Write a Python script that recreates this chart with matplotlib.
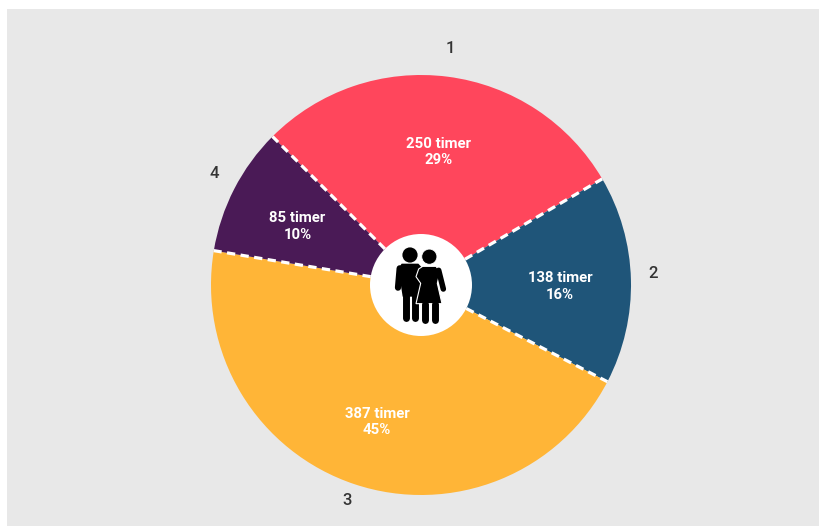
import numpy as np
import matplotlib
matplotlib.use("Agg")
import matplotlib.pyplot as plt
from matplotlib.patches import Circle, Polygon, Rectangle

plt.rcParams['font.family'] = ['Roboto', 'DejaVu Sans']

# data
categories = ['1', '2', '3', '4']
hours = [250, 138, 387, 85]
percents = [29, 16, 45, 10]
colors = ['#FF465C', '#1F5579', '#FFB537', '#4A1A56']

W, H = 820, 526
cx, cy, radius = 421, H - 285, 210
hole_r = 51
start = 135

fig = plt.figure(figsize=(W / 100, H / 100), dpi=100, facecolor='white')
ax = fig.add_axes([0, 0, 1, 1])
ax.add_patch(Rectangle((7, 0), W - 7, H - 9, facecolor='#E8E8E8', edgecolor='none', zorder=0))

ax.pie(hours, colors=colors, startangle=start, counterclock=False, center=(cx, cy),
       radius=radius, frame=True, wedgeprops={'linewidth': 0, 'zorder': 1})
ax.set_xlim(0, W)
ax.set_ylim(0, H)
ax.set_aspect('equal')
ax.axis('off')

fractions = np.array(hours) / sum(hours)
edges = start - 360 * np.concatenate([[0], np.cumsum(fractions)])

# dashed separators between the slices
for a in np.radians(edges[:-1]):
    ax.plot([cx + hole_r * np.cos(a), cx + radius * np.cos(a)],
            [cy + hole_r * np.sin(a), cy + radius * np.sin(a)],
            color='white', lw=2.3, linestyle=(0, (2.6, 1.7)), dash_capstyle='butt', zorder=2)

# labels inside and outside the slices
outer_xy = [(450, 48), (653, 273), (347, 501), (214, 173)]
for i, cat in enumerate(categories):
    mid = np.radians((edges[i] + edges[i + 1]) / 2)
    ax.text(cx + 139 * np.cos(mid), cy + 139 * np.sin(mid) - 5,
            f'{hours[i]} timer\n{percents[i]}%', color='white', fontsize=10.7,
            fontweight='bold', ha='center', va='center', linespacing=1.2, zorder=5)
    ax.text(outer_xy[i][0], H - outer_xy[i][1], cat,
            color='#333333', fontsize=12, fontweight='medium',
            ha='center', va='center', zorder=5)

ax.add_patch(Circle((cx, cy), hole_r, facecolor='white', edgecolor='none', zorder=3))


# couple icon, coordinates measured on a 360 px box over the hole
def ic(x, y):
    return 360 + x / 3, H - (225 + y / 3)


def limb(points, width):
    xs, ys = zip(*[ic(*p) for p in points])
    ax.plot(xs, ys, color='black', lw=width, solid_capstyle='round', solid_joinstyle='round', zorder=4)


# man
ax.add_patch(Circle(ic(150, 90), 7.6, facecolor='black', edgecolor='none', zorder=4))
ax.add_patch(Polygon([ic(*p) for p in [(125, 116), (175, 116), (188, 130), (176, 215), (128, 215), (115, 130)]],
                     facecolor='black', edgecolor='none', zorder=4))
limb([(119, 130), (114, 188)], 4.5)
limb([(139, 210), (139, 278)], 5)
limb([(165, 210), (165, 278)], 5)

# woman, with a white outline so the two figures stay apart
ax.add_patch(Circle(ic(208, 95), 7.6, facecolor='black', edgecolor='white', linewidth=0.6, zorder=4))
ax.add_patch(Polygon([ic(*p) for p in [(188, 124), (228, 124), (240, 140), (232, 175), (246, 236), (168, 236), (182, 175), (168, 155), (176, 132)]],
                     facecolor='black', edgecolor='white', linewidth=0.8, zorder=4))
limb([(236, 136), (250, 192)], 4)
limb([(196, 236), (196, 285)], 5)
limb([(225, 236), (225, 285)], 5)

fig.savefig('out.png', dpi=100, facecolor='white')
